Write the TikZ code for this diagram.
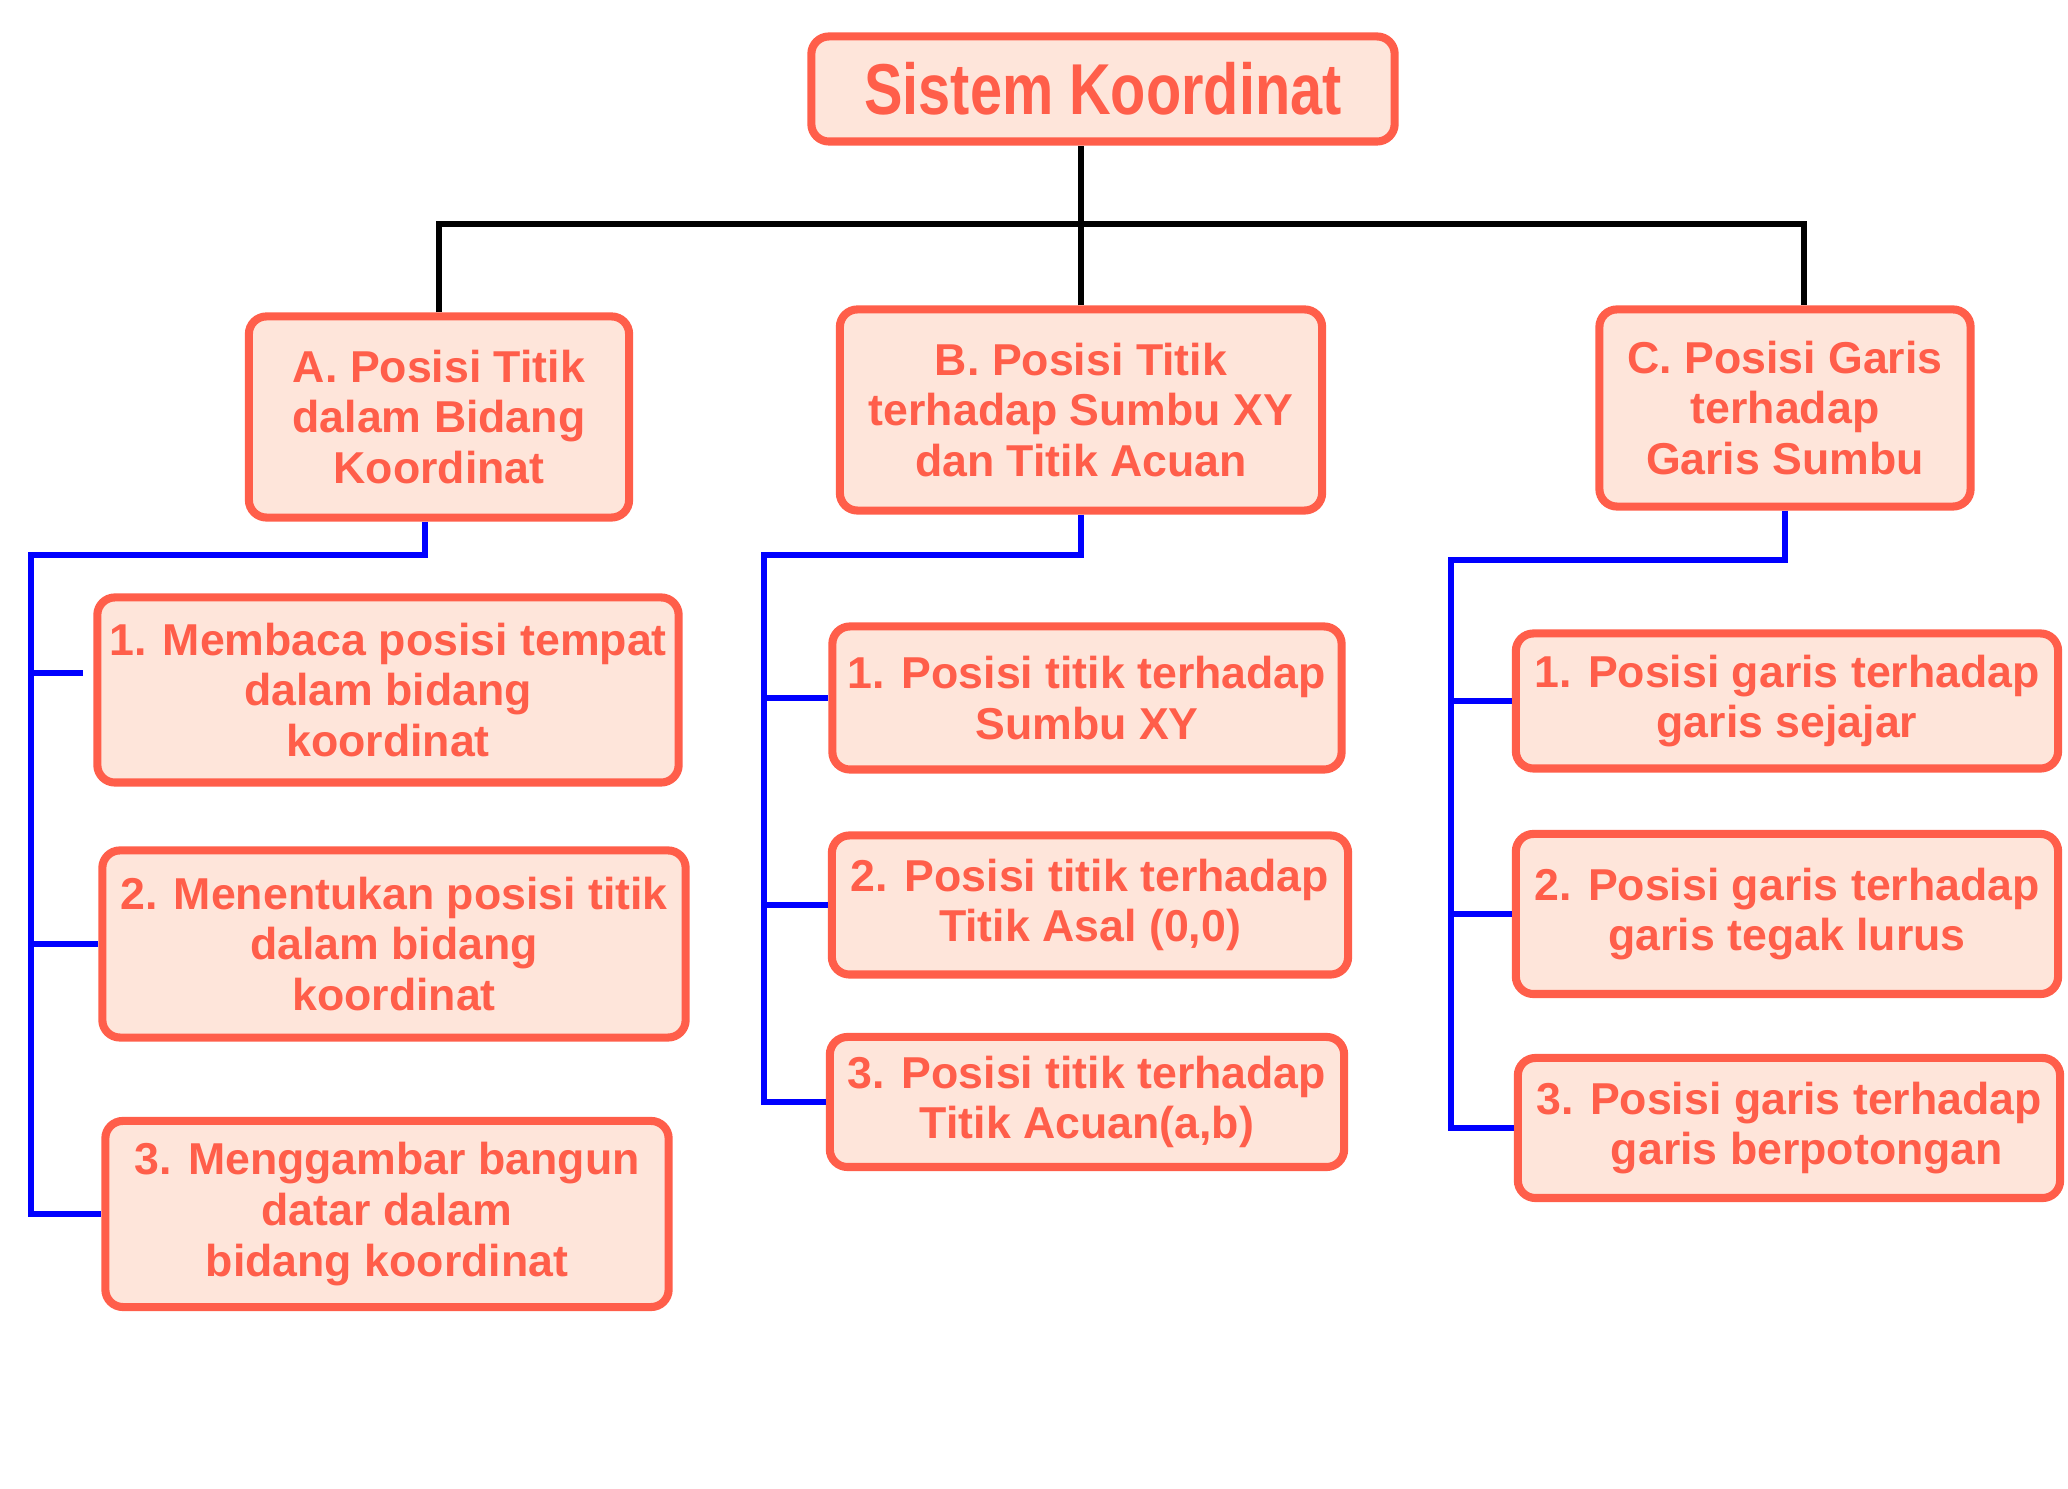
\documentclass[tikz,border=0pt]{standalone}
\usepackage{fontspec}
\setmainfont{Liberation Sans}
\newfontfamily\judulfont{Liberation Sans}[FakeStretch=0.8]
\usepackage{tikz}

\definecolor{merah}{HTML}{FF5E4A}
\definecolor{krem}{HTML}{FEE5DA}
\definecolor{biru}{HTML}{0000FF}

\tikzset{
	kotak/.style={draw=merah, fill=krem, line width=2.3pt, rounded corners=5pt, text=merah, align=center, inner sep=0pt, font=\fontsize{12.7}{14.4}\selectfont\bfseries},
	judul/.style={kotak, font=\judulfont\bfseries\fontsize{20.5}{24}\selectfont},
	hitam/.style={line width=1.7pt, black},
	garisbiru/.style={line width=1.7pt, biru},
}

\begin{document}
\begin{tikzpicture}[x=0.01cm, y=-0.01cm]
	\useasboundingbox (0,0) rectangle (2068,1489);
	\node[judul, minimum width=5.83cm, minimum height=1.05cm] (top) at (1103,89) {Sistem Koordinat};
	\node[kotak, minimum width=3.80cm, minimum height=2.01cm] (A) at (439,417) {A. Posisi Titik\\dalam Bidang\\Koordinat};
	\node[kotak, minimum width=4.82cm, minimum height=2.01cm] (B) at (1081,410) {B. Posisi Titik\\terhadap Sumbu XY\\dan Titik Acuan};
	\node[kotak, minimum width=3.71cm, minimum height=1.97cm] (C) at (1785,408) {C. Posisi Garis\\terhadap\\Garis Sumbu};
	\node[kotak, minimum width=5.81cm, minimum height=1.85cm] (A1) at (388,690) {1. Membaca posisi tempat\\dalam bidang\\koordinat};
	\node[kotak, minimum width=5.83cm, minimum height=1.87cm] (A2) at (394,944) {2. Menentukan posisi titik\\dalam bidang\\koordinat};
	\node[kotak, minimum width=5.63cm, minimum height=1.86cm] (A3) at (387,1214) {3. Menggambar bangun\\datar dalam\\bidang koordinat};
	\node[kotak, minimum width=5.09cm, minimum height=1.43cm] (B1) at (1087,698) {1. Posisi titik terhadap\\Sumbu XY};
	\node[kotak, minimum width=5.16cm, minimum height=1.39cm] (B2) at (1090,905) {2. Posisi titik terhadap\\Titik Asal (0,0)};
	\node[kotak, minimum width=5.14cm, minimum height=1.30cm] (B3) at (1087,1102) {3. Posisi titik terhadap\\Titik Acuan(a,b)};
	\node[kotak, minimum width=5.42cm, minimum height=1.35cm] (C1) at (1787,701) {1. Posisi garis terhadap\\garis sejajar};
	\node[kotak, minimum width=5.42cm, minimum height=1.60cm] (C2) at (1787,914) {2. Posisi garis terhadap\\garis tegak lurus};
	\node[kotak, minimum width=5.42cm, minimum height=1.40cm] (C3) at (1789,1128) {3. Posisi garis terhadap\\\hspace*{0.36cm}garis berpotongan};

	\coordinate (palang) at (0,224);
	\draw[hitam] (B.north) -- (B.north |- top.south);
	\draw[hitam] (A.north) -- (A.north |- palang) -- ([xshift=0.19cm]C.north |- palang) -- ([xshift=0.19cm]C.north);

	\coordinate (tulangA) at (31,555);
	\coordinate (tulangB) at (764,555);
	\coordinate (tulangC) at (1451,560);
	\coordinate (cabangA1) at ([yshift=0.17cm,xshift=-0.1cm]A1.west);
	\draw[garisbiru] ([xshift=-0.14cm]A.south) |- (tulangA) -- (tulangA |- A3.west) -- (A3.west);
	\draw[garisbiru] (tulangA |- cabangA1) -- (cabangA1);
	\draw[garisbiru] (tulangA |- A2.west) -- (A2.west);
	\draw[garisbiru] (B.south) |- (tulangB) -- (tulangB |- B3.west) -- (B3.west);
	\draw[garisbiru] (tulangB |- B1.west) -- (B1.west);
	\draw[garisbiru] (tulangB |- B2.west) -- (B2.west);
	\draw[garisbiru] (C.south) |- (tulangC) -- (tulangC |- C3.west) -- (C3.west);
	\draw[garisbiru] (tulangC |- C1.west) -- (C1.west);
	\draw[garisbiru] (tulangC |- C2.west) -- (C2.west);
\end{tikzpicture}
\end{document}
